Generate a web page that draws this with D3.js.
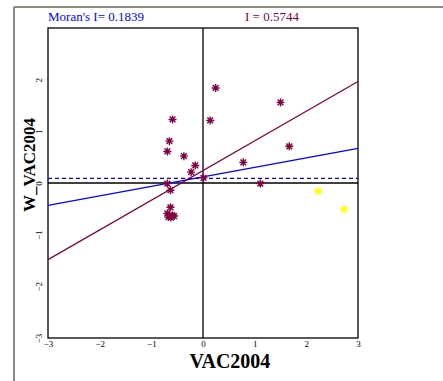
<!DOCTYPE html>
<html>
<head>
<meta charset="utf-8">
<script src="https://cdn.jsdelivr.net/npm/d3@7"></script>
<style>
  body { margin: 0; background: #fff; }
  svg text { font-family: "Liberation Serif", "Times New Roman", serif; }
</style>
</head>
<body>
<svg id="chart"></svg>
<script>
// Moran scatterplot: VAC2004 vs spatially lagged W_VAC2004
const vacValues  = [0.245, 1.50, -0.59, 0.14, -0.65, 1.67, -0.69, -0.37, 0.78, -0.15, -0.23, 0.01, -0.69, 1.11, -0.63, -0.63, -0.69, -0.65, -0.59, -0.56, -0.67, -0.62];
const wVacValues = [1.84, 1.56, 1.23, 1.21, 0.81, 0.71, 0.61, 0.52, 0.40, 0.34, 0.21, 0.10, -0.01, -0.01, -0.14, -0.47, -0.59, -0.63, -0.63, -0.64, -0.66, -0.67];
const selVac  = [2.23, 2.73];
const selWVac = [-0.16, -0.51];
const xTicks = [-3, -2, -1, 0, 1, 2, 3];
const yTicks = [-3, -2, -1, 0, 1, 2];
const moranAll = 0.1839, interceptAll = 0.12;
const moranSel = 0.5744, interceptSel = 0.24;
const lagMean = 0.09;

const W = 443, H = 381;
const margin = {left: 48, right: 85, top: 28, bottom: 43};
const plotW = W - margin.left - margin.right;
const plotH = H - margin.top - margin.bottom;

const svg = d3.select('#chart').attr('width', W).attr('height', H);

// window frame (grey edge at top and left)
svg.append('line').attr('x1', 14).attr('x2', W).attr('y1', 7).attr('y2', 7)
  .attr('stroke', '#8a8a80').attr('stroke-width', 2);
svg.append('line').attr('x1', 14).attr('x2', 14).attr('y1', 7).attr('y2', H)
  .attr('stroke', '#8a8a80').attr('stroke-width', 2);

const x = d3.scaleLinear().domain([-3, 3]).range([0, plotW]);
const y = d3.scaleLinear().domain([-3, 3]).range([plotH, 0]);

const chart = svg.append('g').attr('transform', `translate(${margin.left},${margin.top})`);

// frame
chart.append('rect').attr('width', plotW).attr('height', plotH)
  .attr('fill', 'none').attr('stroke', '#000').attr('stroke-width', 1.3);

// axes through origin
chart.append('line').attr('x1', x(0)).attr('x2', x(0)).attr('y1', 0).attr('y2', plotH)
  .attr('stroke', '#000').attr('stroke-width', 1.3);
chart.append('line').attr('x1', 0).attr('x2', plotW).attr('y1', y(0)).attr('y2', y(0))
  .attr('stroke', '#000').attr('stroke-width', 1.3);

// tick labels
const xAxisG = chart.append('g').attr('transform', `translate(0,${plotH})`)
  .call(d3.axisBottom(x).tickValues(xTicks).tickSize(0).tickPadding(3).tickFormat(d3.format('d')));
xAxisG.select('.domain').remove();
xAxisG.selectAll('text').attr('font-size', 9).attr('fill', '#000')
  .style('font-family', '"Liberation Serif", serif');

const yAxisG = chart.append('g')
  .call(d3.axisLeft(y).tickValues(yTicks).tickSize(0).tickFormat(d3.format('d')));
yAxisG.select('.domain').remove();
yAxisG.selectAll('text')
  .attr('font-size', 9).attr('fill', '#000')
  .style('font-family', '"Liberation Serif", serif')
  .attr('x', 0).attr('dy', 0)
  .attr('text-anchor', 'middle')
  .attr('transform', 'translate(-6,0) rotate(-90)');

// mean of lag (dashed)
chart.append('line').attr('x1', 0).attr('x2', plotW).attr('y1', y(lagMean)).attr('y2', y(lagMean))
  .attr('stroke', '#0000ff').attr('stroke-width', 1.3).attr('stroke-dasharray', '4,3');

// regression lines
const lineGen = d3.line().x(d => x(d[0])).y(d => y(d[1]));
const ends = x.domain();
chart.append('path')
  .attr('d', lineGen(ends.map(v => [v, interceptAll + moranAll * v])))
  .attr('stroke', '#0000ff').attr('stroke-width', 1.2).attr('fill', 'none');
chart.append('path')
  .attr('d', lineGen(ends.map(v => [v, interceptSel + moranSel * v])))
  .attr('stroke', '#800040').attr('stroke-width', 1.2).attr('fill', 'none');

// asterisk marker
const r = 4, rd = r * 0.72;
const star = `M${-r},0L${r},0M0,${-r}L0,${r}M${-rd},${-rd}L${rd},${rd}M${-rd},${rd}L${rd},${-rd}`;

const pts = vacValues.map((v, i) => ({x: v, y: wVacValues[i], sel: false}))
  .concat(selVac.map((v, i) => ({x: v, y: selWVac[i], sel: true})));

chart.selectAll('.pt')
  .data(pts)
  .join('path')
  .attr('class', 'pt')
  .attr('transform', d => `translate(${x(d.x)},${y(d.y)})`)
  .attr('d', star)
  .attr('stroke', d => d.sel ? '#ffff00' : '#800040')
  .attr('stroke-width', 1.4)
  .attr('fill', 'none');

// titles
svg.append('text').attr('x', 48).attr('y', 21)
  .attr('font-size', 13).attr('fill', '#0000ff').text(`Moran's I= ${moranAll.toFixed(4)}`);
svg.append('text').attr('x', 245).attr('y', 21)
  .attr('font-size', 13).attr('fill', '#800040').text(`I = ${moranSel.toFixed(4)}`);

// axis titles
svg.append('text').attr('x', 230).attr('y', 368)
  .attr('text-anchor', 'middle').attr('font-size', 20).attr('font-weight', 'bold')
  .text('VAC2004');
svg.append('text')
  .attr('transform', 'translate(35,165) rotate(-90)')
  .attr('text-anchor', 'middle').attr('font-size', 17).attr('font-weight', 'bold')
  .text('W_VAC2004');
</script>
</body>
</html>
